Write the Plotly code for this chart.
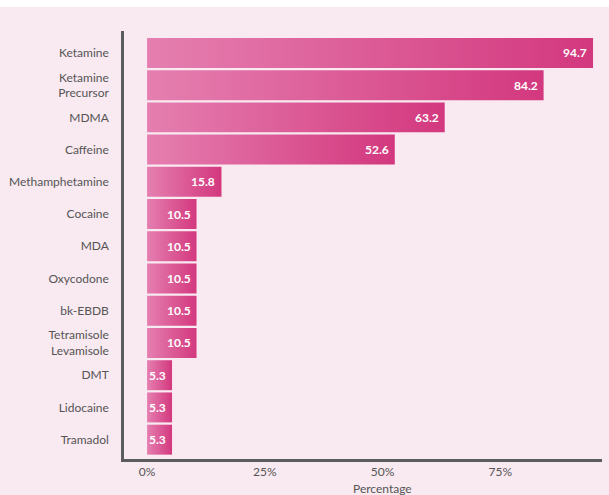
import plotly.graph_objects as go

categories = ["Ketamine", "Ketamine<br>Precursor", "MDMA", "Caffeine", "Methamphetamine",
              "Cocaine", "MDA", "Oxycodone", "bk-EBDB", "Tetramisole<br>Levamisole",
              "DMT", "Lidocaine", "Tramadol"]
values = [94.7, 84.2, 63.2, 52.6, 15.8, 10.5, 10.5, 10.5, 10.5, 10.5, 5.3, 5.3, 5.3]
tick_values = [0, 25, 50, 75]
tick_labels = ["0%", "25%", "50%", "75%"]

FONT = "Lato"
C_LIGHT = "#e57fb0"
C_DARK = "#d3387e"
BG = "#f9e9f1"
TXT = "#555555"

W, H = 609, 495
ML, MR, MT, MB = 124, 7, 31, 36
plot_h = H - MT - MB
plot_w = W - ML - MR

fig = go.Figure()
half = 0.465
for i, (cat, v) in enumerate(zip(categories, values)):
    fig.add_trace(go.Scatter(
        x=[0, v, v, 0, 0],
        y=[i - half, i - half, i + half, i + half, i - half],
        mode="lines", line=dict(width=0), fill="toself",
        fillgradient=dict(type="horizontal", colorscale=[[0, C_LIGHT], [1, C_DARK]]),
        hoverinfo="text", text=f"{cat}: {v}", showlegend=False,
    ))
    fig.add_annotation(x=v, y=i, xref="x", yref="y", text=f"<b>{v}</b>",
                       showarrow=False, xanchor="right", xshift=-4,
                       font=dict(family=FONT, size=12, color="white"))

fig.add_annotation(x=50, y=0, xref="x", yref="paper", yanchor="middle", yshift=-29,
                   text="Percentage", showarrow=False,
                   font=dict(family=FONT, size=12, color=TXT))

fig.add_shape(type="rect", xref="paper", yref="paper",
              x0=-ML / plot_w - 0.01, x1=1 + MR / plot_w + 0.01,
              y0=1 + (MT - 7) / plot_h, y1=1 + MT / plot_h + 0.01,
              fillcolor="white", line=dict(width=0), layer="above")

fig.update_layout(
    width=W, height=H,
    margin=dict(l=ML, r=MR, t=MT, b=MB),
    paper_bgcolor=BG, plot_bgcolor=BG,
    font=dict(family=FONT, size=12, color=TXT),
    xaxis=dict(range=[-4.9, 96.6], tickvals=tick_values, ticktext=tick_labels,
               showgrid=False, zeroline=False, showline=True, linecolor="#5c5c5c",
               linewidth=2.5, ticks="", tickfont=dict(size=12, color=TXT),
               fixedrange=True),
    yaxis=dict(range=[12.6, -0.68], tickvals=list(range(len(categories))), ticktext=categories,
               showgrid=False, zeroline=False, showline=True, linecolor="#5c5c5c",
               linewidth=2.5, ticks="", ticklabelstandoff=10,
               tickfont=dict(size=12, color=TXT), fixedrange=True),
)

fig.write_html("out.html")
